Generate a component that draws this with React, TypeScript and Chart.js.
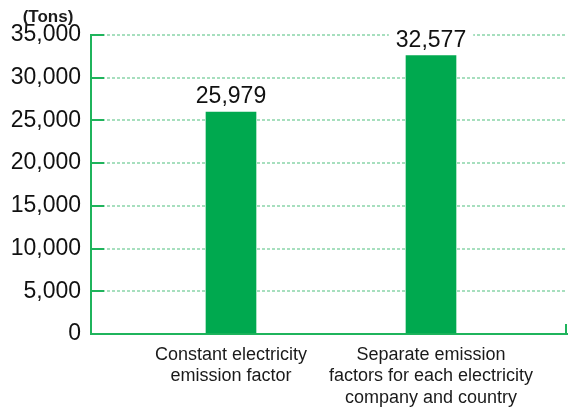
import { useEffect, useRef } from 'react';
import { Chart, registerables } from 'chart.js';

Chart.register(...registerables);

const categories: string[][] = [
  ['Constant electricity', 'emission factor'],
  ['Separate emission', 'factors for each electricity', 'company and country'],
];
const categoryPositions = [1, 2];
const values = [25979, 32577];
const yTickValues = [0, 5000, 10000, 15000, 20000, 25000, 30000, 35000];
const unitLabel = '(Tons)';

const FONT = "'Liberation Sans', Arial, Helvetica, sans-serif";
const GREEN = '#00a94f';
const AXIS_GREEN = '#1fb45c';
const GRID_GREEN = 'rgba(60, 185, 110, 0.45)';

const fmt = (v: number) => v.toLocaleString('en-US');

const decorations = {
  id: 'decorations',
  beforeDatasetsDraw(chart: any) {
    const { ctx, chartArea: area } = chart;
    const y = chart.scales.y;
    ctx.save();
    ctx.strokeStyle = AXIS_GREEN;
    ctx.lineWidth = 2;
    ctx.beginPath();
    y.ticks.forEach((t: any) => {
      if (t.value === 0) return;
      const py = Math.round(y.getPixelForValue(t.value));
      ctx.moveTo(area.left, py);
      ctx.lineTo(area.left + 13, py);
    });
    const bottom = Math.round(area.bottom);
    ctx.moveTo(area.right - 1, bottom);
    ctx.lineTo(area.right - 1, bottom - 10);
    ctx.stroke();
    ctx.restore();
  },
  afterDraw(chart: any) {
    const { ctx } = chart;
    ctx.save();
    ctx.font = `bold 17px ${FONT}`;
    ctx.fillStyle = '#1a1a1a';
    ctx.textAlign = 'center';
    ctx.textBaseline = 'middle';
    ctx.fillText(unitLabel, 48, 17);
    ctx.restore();
  },
};

const valueLabels = {
  id: 'valueLabels',
  afterDatasetsDraw(chart: any) {
    const { ctx } = chart;
    const meta = chart.getDatasetMeta(0);
    ctx.save();
    ctx.font = `23px ${FONT}`;
    ctx.textAlign = 'center';
    ctx.textBaseline = 'alphabetic';
    meta.data.forEach((bar: any, i: number) => {
      const text = fmt(values[i]);
      const w = ctx.measureText(text).width;
      const baseY = bar.y - 9;
      ctx.fillStyle = '#ffffff';
      ctx.fillRect(bar.x - w / 2 - 7, baseY - 19, w + 14, 24);
      ctx.fillStyle = '#111';
      ctx.fillText(text, bar.x, baseY);
    });
    ctx.restore();
  },
};

export default function App() {
  const ref = useRef<HTMLCanvasElement>(null);
  useEffect(() => {
    if (!ref.current) return;
    const chart = new Chart(ref.current, {
      type: 'bar',
      data: {
        datasets: [
          {
            data: values.map((v, i) => ({ x: categoryPositions[i], y: v })),
            backgroundColor: GREEN,
            borderWidth: 0,
            barThickness: 50,
          },
        ],
      },
      options: {
        responsive: false,
        animation: false,
        layout: { padding: { top: 35, right: 1, left: 0, bottom: 0 } },
        plugins: { legend: { display: false }, tooltip: { enabled: false }, title: { display: false } },
        scales: {
          x: {
            type: 'linear',
            min: 0.3,
            max: 2.68,
            offset: false,
            grid: { drawOnChartArea: false, drawTicks: false, offset: false },
            border: { display: true, color: AXIS_GREEN, width: 2 },
            afterBuildTicks: (scale: any) => {
              scale.ticks = categoryPositions.map((v) => ({ value: v }));
            },
            afterFit: (scale: any) => {
              scale.height = 76;
            },
            ticks: {
              autoSkip: false,
              maxRotation: 0,
              padding: 10,
              color: '#1a1a1a',
              font: { family: FONT, size: 18, lineHeight: 1.2 },
              callback: (v: any) => categories[categoryPositions.indexOf(Number(v))] ?? '',
            },
          },
          y: {
            min: 0,
            max: 35000,
            afterBuildTicks: (scale: any) => {
              scale.ticks = yTickValues.map((v) => ({ value: v }));
            },
            afterFit: (scale: any) => {
              scale.width = 91;
            },
            grid: {
              drawTicks: false,
              lineWidth: 2,
              color: (c: any) => (c.tick && c.tick.value === 0 ? 'rgba(0,0,0,0)' : GRID_GREEN),
            },
            border: { display: true, color: AXIS_GREEN, width: 2, dash: [3, 2] },
            ticks: {
              padding: 10,
              color: '#111',
              font: { family: FONT, size: 23 },
              callback: (v: any) => fmt(Number(v)),
            },
          },
        },
      },
      plugins: [decorations, valueLabels],
    });
    return () => chart.destroy();
  }, []);
  return (
    <div style={{ position: 'absolute', left: 0, top: 0, width: 568, height: 410, background: '#fff' }}>
      <canvas ref={ref} width={568} height={410} style={{ display: 'block' }} />
    </div>
  );
}
